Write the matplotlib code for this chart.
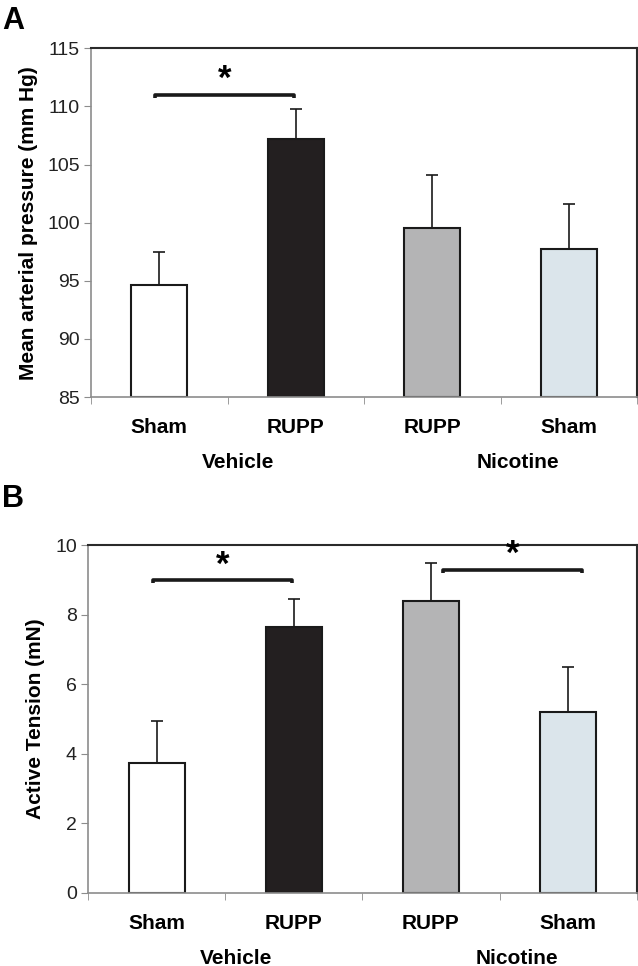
import numpy as np
import matplotlib.pyplot as plt

plt.rcParams["font.family"] = ["Liberation Sans", "DejaVu Sans"]

# Data
categories = ["Sham", "RUPP", "RUPP", "Sham"]
groups = ["Vehicle", "Nicotine"]
bar_colors = ["#ffffff", "#231f20", "#b4b4b5", "#dbe5eb"]

map_mean = [94.6, 107.2, 99.5, 97.7]
map_err = [2.9, 2.6, 4.6, 3.9]

tension_mean = [3.75, 7.65, 8.4, 5.2]
tension_err = [1.2, 0.8, 1.1, 1.3]

fig = plt.figure(figsize=(6.38, 9.66), dpi=100)

grey = "#8c8c8c"
tick_font = ["Liberation Sans Narrow", "Liberation Sans"]


def draw_panel(ax, means, errs, ylim, yticks, ylabel, brackets):
    x = np.arange(len(categories))
    base = ylim[0]
    heights = [m - base for m in means]
    ax.bar(x, heights, bottom=base, width=0.41, color=bar_colors,
           edgecolor="#1a1a1a", linewidth=1.5, zorder=2)
    ax.errorbar(x, means, yerr=[np.zeros(len(errs)), errs], fmt="none",
                ecolor="#1a1a1a", elinewidth=1.2, capsize=4, capthick=1.2,
                zorder=1)
    ax.set_xlim(-0.5, 3.5)
    ax.set_ylim(*ylim)
    ax.set_yticks(yticks)
    ax.set_yticklabels([str(t) for t in yticks], fontsize=14,
                       family=tick_font, color="#222222")
    ax.set_xticks(x)
    ax.set_xticklabels([])
    ax.set_xticks(np.arange(-0.5, 4.0, 1.0), minor=True)
    ax.tick_params(axis="x", which="major", length=0)
    ax.tick_params(axis="x", which="minor", length=5, color=grey, direction="out")
    ax.tick_params(axis="y", length=5, color=grey, direction="out", pad=3)
    for s in ["left", "bottom"]:
        ax.spines[s].set_color(grey)
        ax.spines[s].set_linewidth(1.2)
    for s in ["top", "right"]:
        ax.spines[s].set_color("#2a2a2a")
        ax.spines[s].set_linewidth(1.5)
    ax.set_ylabel(ylabel, fontsize=15, fontweight="bold", labelpad=7)

    trans = ax.get_xaxis_transform()
    for i, c in enumerate(categories):
        ax.annotate(c, xy=(i, 0), xycoords=trans, xytext=(0, -22),
                    textcoords="offset points", ha="center", va="center",
                    fontsize=15, fontweight="bold")
    for pos, g in zip([0.58, 2.63], groups):
        ax.annotate(g, xy=(pos, 0), xycoords=trans, xytext=(0, -47),
                    textcoords="offset points", ha="center", va="center",
                    fontsize=15, fontweight="bold")

    span = ylim[1] - ylim[0]
    for x0, x1, yb in brackets:
        d = span * 0.01
        ax.plot([x0, x0, x1, x1], [yb - d, yb, yb, yb - d], color="#1a1a1a",
                lw=2.6, solid_capstyle="butt", zorder=3)
        ax.text((x0 + x1) / 2, yb - span * 0.004, "*", ha="center", va="bottom",
                fontsize=25, fontweight="bold")


axA = fig.add_axes([0.1426, 0.589, 0.856, 0.361])
draw_panel(axA, map_mean, map_err, (85, 115), [85, 90, 95, 100, 105, 110, 115],
           "Mean arterial pressure (mm Hg)", [(-0.03, 0.99, 111.0)])

axB = fig.add_axes([0.138, 0.0756, 0.860, 0.360])
draw_panel(axB, tension_mean, tension_err, (0, 10), [0, 2, 4, 6, 8, 10],
           "Active Tension (mN)", [(-0.03, 0.99, 9.0), (2.09, 3.1, 9.3)])

fig.text(0.003, 0.978, "A", fontsize=22, fontweight="bold", va="center")
fig.text(0.003, 0.483, "B", fontsize=22, fontweight="bold", va="center")

fig.savefig("out.png", dpi=100)
